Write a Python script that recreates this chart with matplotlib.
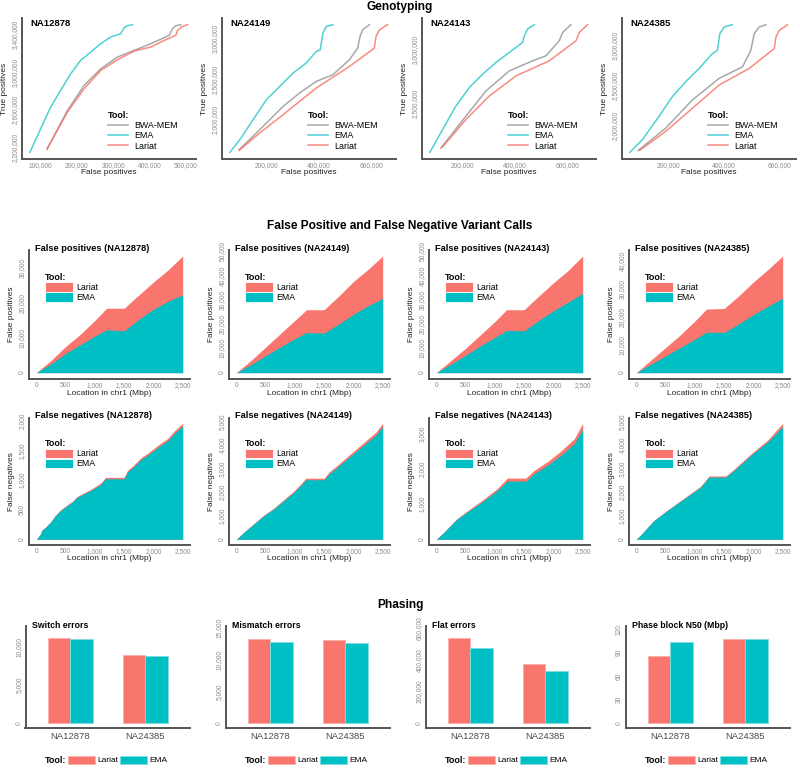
import matplotlib
matplotlib.use('Agg')
import matplotlib.pyplot as plt
from matplotlib.patches import Patch
from matplotlib.lines import Line2D
from matplotlib.ticker import FuncFormatter

plt.rcParams['font.family'] = ['Liberation Sans', 'DejaVu Sans']

W, H = 800, 768
LARIAT = '#F8766D'
EMA = '#00BFC4'
BWA = '#999999'
AXIS_COL = '#555555'
TICK_COL = '#8c8c8c'

samples = ['NA12878', 'NA24149', 'NA24143', 'NA24385']

# ---------------- Genotyping (false positives, true positives) ----------------
geno_ema_fp = {
    'NA12878': [70600, 100000, 127600, 155000, 182800, 210000, 238000, 265500, 293000, 320700, 329900, 339000, 352900],
    'NA24149': [60300, 98400, 149000, 200000, 263500, 301600, 352000, 390500, 405700, 416000, 428600, 454000],
    'NA24143': [75600, 123800, 174600, 225400, 276000, 327000, 377800, 428600, 435000, 447600, 473000],
    'NA24385': [61400, 106000, 166000, 214500, 262700, 311000, 359000, 377000, 385500, 401000, 431000],
}
geno_ema_tp = {
    'NA12878': [2143000, 2393000, 2625000, 2804000, 2982000, 3125000, 3214000, 3304000, 3375000, 3411000, 3475000, 3496000, 3507000],
    'NA24149': [1600000, 1755000, 2000000, 2245000, 2449000, 2571000, 2694000, 2837000, 2857000, 3061000, 3143000, 3165000],
    'NA24143': [2044000, 2256000, 2475000, 2647000, 2772000, 2881000, 2975000, 3069000, 3131000, 3194000, 3234000],
    'NA24385': [1671000, 1827000, 2115000, 2362000, 2547000, 2712000, 2897000, 2938000, 3144000, 3226000, 3255000],
}
geno_bwa_fp = {
    'NA12878': [118000, 173600, 219500, 265500, 311500, 357500, 403400, 454000, 463000, 472000, 486000],
    'NA24149': [95900, 174600, 263500, 327000, 390500, 454000, 517500, 549000, 558000, 568000, 593700],
    'NA24143': [117500, 212700, 288900, 377800, 466700, 517500, 568000, 581000, 612700],
    'NA24385': [91600, 190400, 286700, 383000, 467500, 497600, 509600, 527700, 551800],
}
geno_bwa_tp = {
    'NA12878': [2179000, 2589000, 2857000, 3036000, 3161000, 3232000, 3304000, 3393000, 3464000, 3496000, 3507000],
    'NA24149': [1633000, 1878000, 2163000, 2327000, 2469000, 2551000, 2735000, 2878000, 3020000, 3102000, 3165000],
    'NA24143': [2084000, 2381000, 2616000, 2803000, 2897000, 2944000, 3084000, 3162000, 3234000],
    'NA24385': [1695000, 1971000, 2321000, 2588000, 2733000, 2938000, 3144000, 3226000, 3255000],
}
geno_lariat_fp = {
    'NA12878': [118000, 173600, 219500, 265500, 311500, 357500, 403400, 440000, 472000, 477000, 490800, 504600],
    'NA24149': [95900, 174600, 263500, 390500, 517500, 612700, 619000, 632000, 663500],
    'NA24143': [123800, 212700, 301600, 403000, 530000, 631700, 644400, 676000],
    'NA24385': [96400, 190400, 286700, 383000, 491600, 582000, 588000, 600000, 630000],
}
geno_lariat_tp = {
    'NA12878': [2179000, 2571000, 2821000, 3018000, 3132000, 3225000, 3268000, 3339000, 3393000, 3446000, 3489000, 3507000],
    'NA24149': [1625000, 1837000, 2061000, 2388000, 2653000, 2878000, 3020000, 3102000, 3165000],
    'NA24143': [2094000, 2350000, 2569000, 2756000, 2897000, 3084000, 3162000, 3234000],
    'NA24385': [1695000, 1930000, 2218000, 2506000, 2712000, 2959000, 3103000, 3185000, 3255000],
}
geno_xticks = {
    'NA12878': [100000, 200000, 300000, 400000, 500000],
    'NA24149': [200000, 400000, 600000],
    'NA24143': [200000, 400000, 600000],
    'NA24385': [200000, 400000, 600000],
}
geno_yticks = {
    'NA12878': [2200000, 2600000, 3000000, 3400000],
    'NA24149': [2000000, 2500000, 3000000],
    'NA24143': [2500000, 3000000],
    'NA24385': [2000000, 2500000, 3000000],
}

# ---------------- False positives along chr1 ----------------
fp_loc = [0, 250, 500, 750, 1000, 1200, 1500, 1750, 2000, 2250, 2500]
fp_lariat = {
    'NA12878': [0, 3500, 7500, 11000, 15000, 18500, 18500, 22300, 26000, 29500, 33500],
    'NA24149': [0, 5000, 10500, 16000, 21500, 25900, 25900, 31500, 37500, 42500, 48000],
    'NA24143': [0, 5000, 10000, 15500, 21000, 25900, 25900, 31500, 37000, 42000, 48000],
    'NA24385': [0, 4500, 9000, 13500, 18500, 22800, 23000, 27500, 32500, 37000, 41800],
}
fp_ema = {
    'NA12878': [0, 2500, 5500, 8000, 10500, 12300, 12000, 15300, 18200, 20500, 22300],
    'NA24149': [0, 3300, 7000, 10500, 14000, 16500, 16300, 20000, 24000, 27500, 30600],
    'NA24143': [0, 3500, 7200, 11000, 14500, 17400, 17200, 21500, 25500, 29000, 32600],
    'NA24385': [0, 3000, 6000, 9000, 12000, 14500, 14400, 17500, 20800, 23800, 26700],
}
fp_yticks = {
    'NA12878': [0, 10000, 20000, 30000],
    'NA24149': [0, 10000, 20000, 30000, 40000, 50000],
    'NA24143': [0, 10000, 20000, 30000, 40000, 50000],
    'NA24385': [0, 10000, 20000, 30000, 40000],
}

# ---------------- False negatives along chr1 ----------------
fn_loc = {
    'NA12878': [0, 69, 97, 154, 240, 326, 412, 526, 612, 698, 812, 927, 1041, 1098, 1184, 1499, 1556, 1670, 1785, 1899, 2014, 2128, 2243, 2357, 2500],
    'NA24149': [0, 126, 297, 469, 641, 812, 984, 1127, 1184, 1499, 1585, 1728, 1899, 2071, 2243, 2386, 2500],
    'NA24143': [0, 100, 355, 584, 812, 1041, 1213, 1527, 1670, 1899, 2128, 2357, 2500],
    'NA24385': [0, 100, 297, 526, 812, 1098, 1242, 1528, 1670, 1957, 2243, 2500],
}
fn_ema = {
    'NA12878': [0, 85, 154, 200, 285, 399, 484, 570, 627, 712, 769, 826, 895, 929, 1026, 1026, 1140, 1236, 1350, 1425, 1510, 1595, 1670, 1795, 1920],
    'NA24149': [0, 286, 643, 1000, 1286, 1643, 2000, 2357, 2529, 2529, 2786, 3071, 3429, 3786, 4143, 4429, 4786],
    'NA24143': [0, 150, 571, 838, 1095, 1381, 1648, 1648, 1857, 2095, 2381, 2714, 3114],
    'NA24385': [0, 250, 786, 1214, 1714, 2214, 2643, 2643, 2929, 3571, 4143, 4786],
}
fn_lariat = {
    'NA12878': [0, 88, 159, 206, 293, 409, 495, 583, 641, 727, 786, 845, 916, 951, 1050, 1050, 1166, 1264, 1380, 1457, 1544, 1631, 1708, 1837, 1966],
    'NA24149': [0, 300, 665, 1030, 1325, 1690, 2055, 2420, 2595, 2595, 2860, 3150, 3520, 3885, 4255, 4555, 4929],
    'NA24143': [0, 155, 590, 870, 1140, 1440, 1733, 1733, 1950, 2200, 2500, 2850, 3286],
    'NA24385': [0, 255, 800, 1235, 1745, 2255, 2690, 2690, 2980, 3630, 4215, 4929],
}
fn_yticks = {
    'NA12878': [0, 500, 1000, 1500, 2000],
    'NA24149': [0, 1000, 2000, 3000, 4000, 5000],
    'NA24143': [0, 1000, 2000, 3000],
    'NA24385': [0, 1000, 2000, 3000, 4000, 5000],
}
loc_ticks = [0, 500, 1000, 1500, 2000, 2500]

# ---------------- Phasing ----------------
phase_samples = ['NA12878', 'NA24385']
phase_titles = ['Switch errors', 'Mismatch errors', 'Flat errors', 'Phase block N50 (Mbp)']
phase_lariat = [[11184, 8904], [13190, 13086], [540600, 377000], [85.7, 107.1]]
phase_ema = [[10965, 8728], [12776, 12672], [477000, 333000], [103.7, 107.1]]
phase_ymax = [12700, 15300, 614800, 124.3]
phase_yticks = [[0, 5000, 10000], [0, 5000, 10000, 15000],
                [0, 200000, 400000, 600000], [0, 30, 60, 90, 120]]

comma = FuncFormatter(lambda v, p: f'{v:,.0f}')


def px_axes(fig, left, right, top, bottom):
    return fig.add_axes([left / W, 1 - bottom / H, (right - left) / W, (bottom - top) / H])


def expand(lo, hi, f=0.05):
    d = (hi - lo) * f
    return lo - d, hi + d


def style(ax, yticks, xticks=None):
    for s in ['top', 'right']:
        ax.spines[s].set_visible(False)
    for s in ['left', 'bottom']:
        ax.spines[s].set_color(AXIS_COL)
        ax.spines[s].set_linewidth(1.4)
    if xticks is not None:
        ax.set_xticks(xticks)
        ax.xaxis.set_major_formatter(comma)
    ax.set_yticks(yticks)
    ax.yaxis.set_major_formatter(comma)
    ax.tick_params(length=0, labelsize=4.8, labelcolor=TICK_COL, pad=2.2)
    ax.tick_params(axis='y', labelrotation=90)
    plt.setp(ax.get_yticklabels(), va='center')


fig = plt.figure(figsize=(W / 100, H / 100), dpi=100)
fig.patch.set_facecolor('white')

for txt, base in [('Genotyping', 10), ('False Positive and False Negative Variant Calls', 228.5),
                  ('Phasing', 608)]:
    fig.text(0.5, 1 - base / H, txt, ha='center', va='baseline', fontsize=8.6, fontweight='bold')

# ---- Row 1: genotyping curves ----
for i, s in enumerate(samples):
    left = i * 200 + 22
    ax = px_axes(fig, left, left + 173.5, 18.3, 158.7)
    ax.plot(geno_bwa_fp[s], geno_bwa_tp[s], color=BWA, lw=1.1, alpha=0.85)
    ax.plot(geno_ema_fp[s], geno_ema_tp[s], color=EMA, lw=1.1, alpha=0.7)
    ax.plot(geno_lariat_fp[s], geno_lariat_tp[s], color=LARIAT, lw=1.1, alpha=0.85)
    xs = geno_bwa_fp[s] + geno_ema_fp[s] + geno_lariat_fp[s]
    ys = geno_bwa_tp[s] + geno_ema_tp[s] + geno_lariat_tp[s]
    ax.set_xlim(*expand(min(xs), max(xs)))
    ax.set_ylim(*expand(min(ys), max(ys)))
    style(ax, geno_yticks[s], geno_xticks[s])
    ax.text(0.046, 0.965, s, transform=ax.transAxes, fontsize=6.8, fontweight='bold', va='center')
    ax.set_xlabel('False positives', fontsize=6, color='#222222')
    ax.set_ylabel('True positives', fontsize=6, color='#222222')
    ax.xaxis.set_label_coords(0.5, -0.073)
    ax.yaxis.set_label_coords(-0.078, 0.5)
    handles = [Line2D([], [], color=BWA, lw=1.1, alpha=0.85),
               Line2D([], [], color=EMA, lw=1.1, alpha=0.7),
               Line2D([], [], color=LARIAT, lw=1.1, alpha=0.85)]
    ax.legend(handles, ['BWA-MEM', 'EMA', 'Lariat'], title='Tool:', loc='upper left',
              bbox_to_anchor=(0.493, 0.343), frameon=False, fontsize=6.4,
              title_fontproperties={'weight': 'bold', 'size': 6.4}, alignment='left',
              handlelength=2.25, handletextpad=0.8, labelspacing=0.15,
              borderpad=0, borderaxespad=0)


def area_panel(ax, x, lariat, ema, yticks, title, ylabel, xlab_y, leg_y):
    ax.fill_between(x, lariat, color=LARIAT, lw=0)
    ax.fill_between(x, ema, color=EMA, lw=0)
    ax.set_xlim(*expand(0, 2500))
    ax.set_ylim(*expand(0, max(lariat)))
    style(ax, yticks, loc_ticks)
    ax.text(0.037, 1.016, title, transform=ax.transAxes, fontsize=6.7, fontweight='bold', va='center')
    ax.set_xlabel('Location in chr1 (Mbp)', fontsize=6, color='#222222')
    ax.set_ylabel(ylabel, fontsize=6, color='#222222')
    ax.xaxis.set_label_coords(0.5, xlab_y)
    ax.yaxis.set_label_coords(-0.087, 0.5)
    handles = [Patch(facecolor=LARIAT, edgecolor='white', lw=0.6),
               Patch(facecolor=EMA, edgecolor='white', lw=0.6)]
    ax.legend(handles, ['Lariat', 'EMA'], title='Tool:', loc='upper left',
              bbox_to_anchor=(0.099, leg_y), frameon=False, fontsize=6.3,
              title_fontproperties={'weight': 'bold', 'size': 6.4}, alignment='left',
              handlelength=3.2, handleheight=1.25, labelspacing=0.05, handletextpad=0.35,
              borderpad=0, borderaxespad=0)


# ---- Row 2: false positives ----
for i, s in enumerate(samples):
    ax = px_axes(fig, i * 200 + 29, i * 200 + 190, 250.2, 378.5)
    area_panel(ax, fp_loc, fp_lariat[s], fp_ema[s], fp_yticks[s],
               f'False positives ({s})', 'False positives', -0.086, 0.822)

# ---- Row 3: false negatives ----
for i, s in enumerate(samples):
    ax = px_axes(fig, i * 200 + 29, i * 200 + 190, 417.5, 545.1)
    area_panel(ax, fn_loc[s], fn_lariat[s], fn_ema[s], fn_yticks[s],
               f'False negatives ({s})', 'False negatives', -0.074, 0.83)

# ---- Row 4: phasing bars ----
for i in range(4):
    ax = px_axes(fig, i * 200 + 25.5, i * 200 + 190, 626, 728.3)
    pos = [1, 2]
    ax.bar([p - 0.15 for p in pos], phase_lariat[i], width=0.3, color=LARIAT,
           edgecolor='#FBB0AA', lw=0.7)
    ax.bar([p + 0.15 for p in pos], phase_ema[i], width=0.3, color=EMA,
           edgecolor='#7FDDE0', lw=0.7)
    ax.set_xlim(0.4, 2.6)
    ax.set_ylim(-0.0515 * phase_ymax[i], phase_ymax[i])
    style(ax, phase_yticks[i])
    ax.set_xticks(pos)
    ax.set_xticklabels(phase_samples)
    ax.tick_params(axis='x', labelsize=6.8, labelcolor='#4d4d4d', pad=3)
    ax.text(0.037, 1.0, phase_titles[i], transform=ax.transAxes, fontsize=6.3,
            fontweight='bold', va='center')
    ax.text(0.119, -0.31, 'Tool:', transform=ax.transAxes, fontsize=6.4,
            fontweight='bold', va='center')
    handles = [Patch(facecolor=LARIAT, edgecolor='#FBB0AA', lw=0.7),
               Patch(facecolor=EMA, edgecolor='#7FDDE0', lw=0.7)]
    ax.legend(handles, ['Lariat', 'EMA'], ncol=2, loc='center left',
              bbox_to_anchor=(0.258, -0.31), frameon=False, fontsize=6.0,
              handlelength=3.3, handleheight=1.15, handletextpad=0.2, columnspacing=0.2,
              borderpad=0, borderaxespad=0)

fig.savefig('out.png', dpi=100, facecolor='white')
